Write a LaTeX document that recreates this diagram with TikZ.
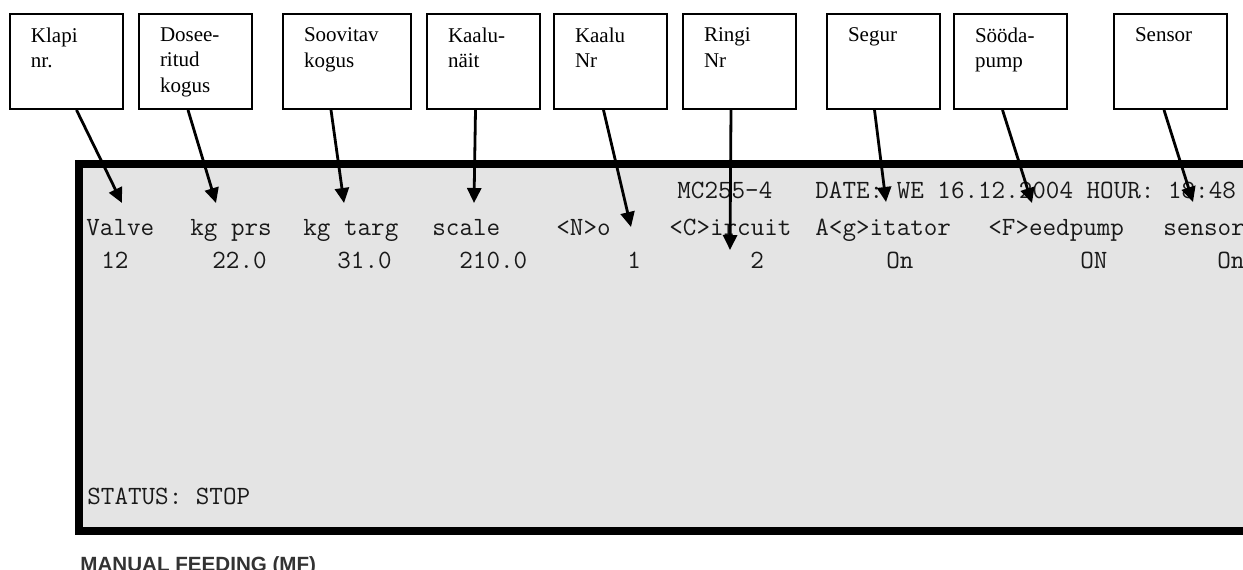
\documentclass[tikz,border=0pt]{standalone}
\usepackage{fontspec}
\usepackage{tikz}
\usetikzlibrary{arrows.meta}
\newfontfamily\tagfont{Liberation Serif}
\newfontfamily\capfont{Liberation Sans}
\definecolor{lcdgray}{HTML}{E4E4E4}
\newcommand{\tagtext}[2][35.5pt]{\parbox[t][33.5pt][t]{#1}{\raggedright #2}}

\begin{document}
\begin{tikzpicture}[x=0.5pt, y=-0.5pt,
	tag/.style={draw, line width=1pt, anchor=north west, inner xsep=10.5pt, inner ysep=7pt, font=\tagfont\fontsize{10.5pt}{12.6pt}\selectfont},
	lcd/.style={anchor=base west, inner sep=0pt, text=black!90, font=\ttfamily\fontsize{13.17pt}{15pt}\selectfont},
	pointer/.style={line width=1.4pt, -{Triangle[length=7.5pt,width=7pt]}}]
		\useasboundingbox (0,0) rectangle (1243,569);
		\clip (0,0) rectangle (1243,569);

		\draw[line width=4pt, fill=lcdgray] (79,164) rectangle (1290,531);

		\node[tag] (valve)at(9,13) {\tagtext{Klapi\\nr.}};
		\node[tag] (prs)at(138,13) {\tagtext{Dosee-\\ritud\\kogus}};
		\node[tag] (targ)at(282,13) {\tagtext[43pt]{Soovitav\\kogus}};
		\node[tag] (scale)at(426,13) {\tagtext{Kaalu-\\näit}};
		\node[tag] (no)at(553,13) {\tagtext{Kaalu\\Nr}};
		\node[tag] (circ)at(682,13) {\tagtext{Ringi\\Nr}};
		\node[tag] (agit)at(826,13) {\tagtext{Segur}};
		\node[tag] (pump)at(953,13) {\tagtext{Sööda-\\pump}};
		\node[tag] (sens)at(1113,13) {\tagtext{Sensor}};

		\node[lcd] (model)at(677,198.5) {MC255-4};
		\node[lcd] (clock)at(815,198.5) {DATE: WE 16.12.2004 HOUR: 18:48};

		\node[lcd] (h1)at(86,235.5) {Valve};
		\node[lcd] (h2)at(190,235.5) {kg prs};
		\node[lcd] (h3)at(303,235.5) {kg targ};
		\node[lcd] (h4)at(432,235.5) {scale};
		\node[lcd] (h5)at(556,235.5) {<N>o};
		\node[lcd] (h6)at(669,235.5) {<C>ircuit};
		\node[lcd] (h7)at(815,235.5) {A<g>itator};
		\node[lcd] (h8)at(988,235.5) {<F>eedpump};
		\node[lcd] (h9)at(1163,235.5) {sensor};

		\node[lcd] (v1)at(101,268.5) {12};
		\node[lcd] (v2)at(212,268.5) {22.0};
		\node[lcd] (v3)at(337,268.5) {31.0};
		\node[lcd] (v4)at(459,268.5) {210.0};
		\node[lcd] (v5)at(627,268.5) {1};
		\node[lcd] (v6)at(750,268.5) {2};
		\node[lcd] (v7)at(886,268.5) {On};
		\node[lcd] (v8)at(1080,268.5) {ON};
		\node[lcd] (v9)at(1217,268.5) {On};

		\node[lcd] (status)at(87,504.5) {STATUS: STOP};

		\coordinate (valve-tip) at (122,203);
		\coordinate (prs-tip) at (216,203);
		\coordinate (targ-tip) at (344,203);
		\coordinate (scale-tip) at (474,203);
		\coordinate (no-tip) at (631,227);
		\coordinate (circ-tip) at (730,250);
		\coordinate (agit-tip) at (886,202);
		\coordinate (pump-tip) at (1032,203);
		\coordinate (sens-tip) at (1193,202);

		\draw[pointer] ([xshift=5pt]valve.south) -- (valve-tip);
		\draw[pointer] ([xshift=-3.75pt]prs.south) -- (prs-tip);
		\draw[pointer] ([xshift=-8pt]targ.south) -- (targ-tip);
		\draw[pointer] ([xshift=-4pt]scale.south) -- (scale-tip);
		\draw[pointer] ([xshift=-3.5pt]no.south) -- (no-tip);
		\draw[pointer] ([xshift=-4.25pt]circ.south) -- (circ-tip);
		\draw[pointer] ([xshift=-4.5pt]agit.south) -- (agit-tip);
		\draw[pointer] ([xshift=-4pt]pump.south) -- (pump-tip);
		\draw[pointer] ([xshift=-3.25pt]sens.south) -- (sens-tip);

		\node[anchor=base west, inner sep=0pt, text=black!80, font=\capfont\bfseries\fontsize{10.3pt}{12pt}\selectfont] (caption)at(80,571.5) {MANUAL FEEDING (MF)};
\end{tikzpicture}
\end{document}
